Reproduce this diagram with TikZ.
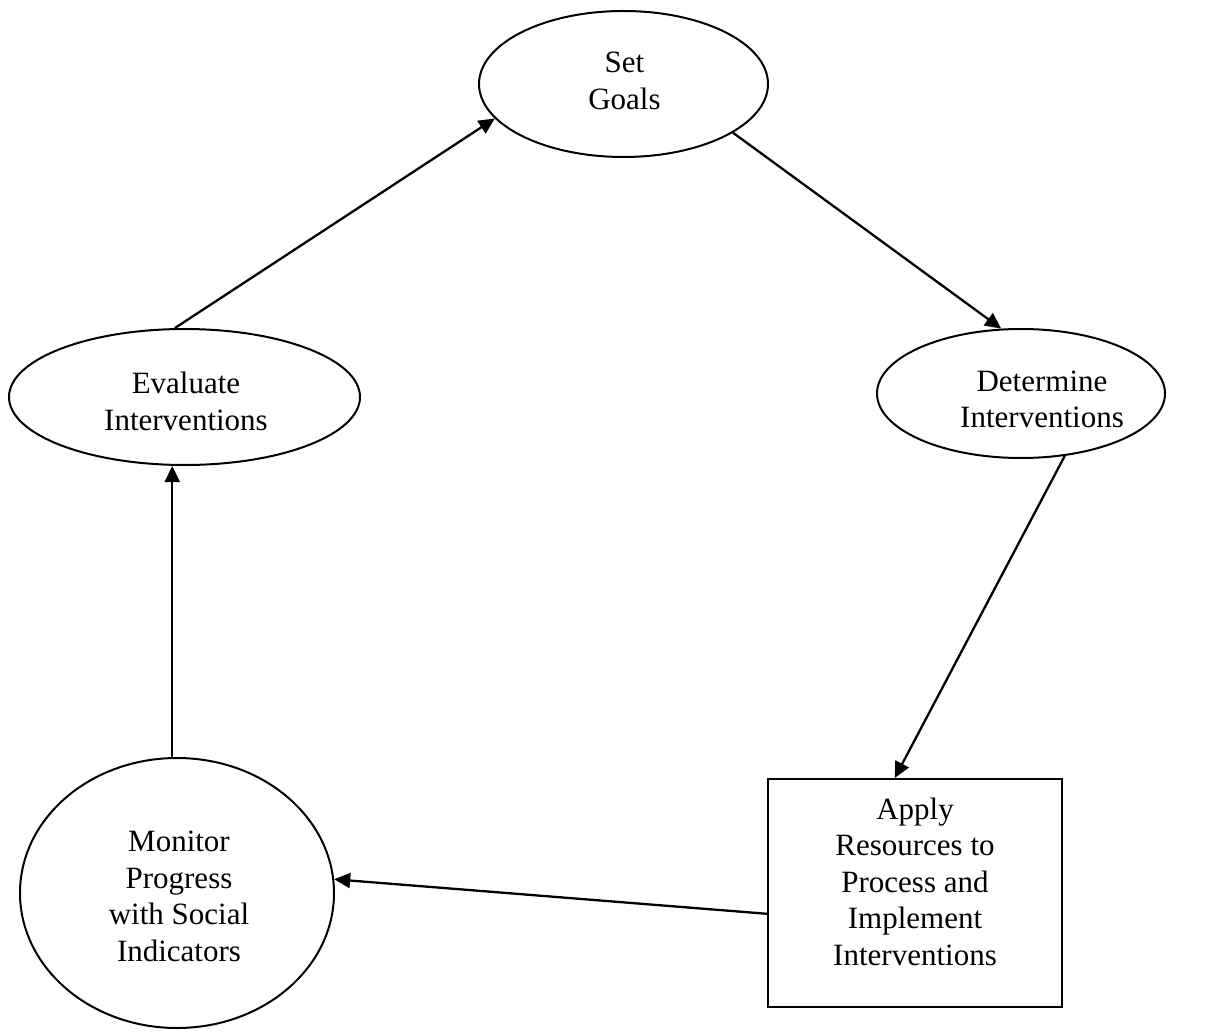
\documentclass[tikz,border=0pt]{standalone}
\usepackage{fontspec}
\setmainfont{Liberation Serif}
\usetikzlibrary{shapes.geometric,arrows.meta,calc}
\begin{document}
\begin{tikzpicture}[x=1pt,y=-1pt,
  shapeline/.style={draw=black,line width=2pt,inner sep=0pt},
  oval/.style={shapeline,ellipse},
  boxshape/.style={shapeline,rectangle},
  txt/.style={align=center,font=\fontsize{31}{36.5}\selectfont,inner sep=0pt},
  conn/.style={line width=2.3pt,-{Triangle[length=16pt,width=15pt]}}]
\useasboundingbox (0,0) rectangle (1213,1032);
% shapes
\node[oval,minimum width=289pt,minimum height=146pt] (sg) at (623.5,84) {};
\node[oval,minimum width=351pt,minimum height=136pt] (ev) at (184.5,397) {};
\node[oval,minimum width=288pt,minimum height=129pt] (de) at (1021,393.5) {};
\node[oval,minimum width=314pt,minimum height=270pt] (mo) at (177,893) {};
\node[boxshape,minimum width=294pt,minimum height=228pt] (ap) at (915,893) {};
% texts
\node[txt] (sgt) at (624.5,81) {Set\\Goals};
\node[txt] (evt) at (186,401.5) {Evaluate\\Interventions};
\node[txt] (det) at (1042,399.5) {Determine\\Interventions};
\node[txt] (mot) at (179,896.5) {Monitor\\Progress\\with Social\\Indicators};
\node[txt] (apt) at (915,881.5) {Apply\\Resources to\\Process and\\Implement\\Interventions};
% connectors
\draw[conn] (ev.98) -- (sg.195);
\draw[conn] (sg.336) -- (de.107);
\draw[conn] (de.305) -- (ap.100);
\draw[conn] (ap.188) -- (mo.5);
\draw[conn] (mo.92) -- (mo.92 |- ev.south);
\end{tikzpicture}
\end{document}
